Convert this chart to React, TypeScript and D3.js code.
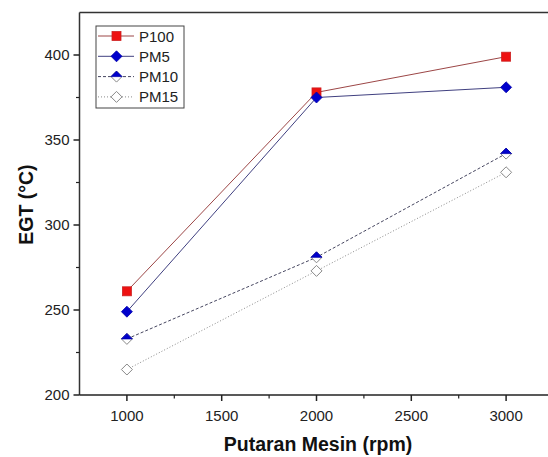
import React from 'react';
import * as d3 from 'd3';

const W = 548;
const H = 457;

const rpm = [1000, 2000, 3000];
const p100 = [261, 378, 399];
const pm5 = [249, 375, 381];
const pm10 = [233, 281, 342];
const pm15 = [215, 273, 331];

const xTicks = [1000, 1500, 2000, 2500, 3000];
const xMinor = [1250, 1750, 2250, 2750];
const yTicks = [200, 250, 300, 350, 400];
const yMinor = [225, 275, 325, 375];

const series = [
  { name: 'P100', values: p100, line: '#9c4646', dash: null, marker: 'square' },
  { name: 'PM5', values: pm5, line: '#404080', dash: null, marker: 'diamond' },
  { name: 'PM10', values: pm10, line: '#45455f', dash: '3,2', marker: 'half' },
  { name: 'PM15', values: pm15, line: '#8a8a8a', dash: '1,2', marker: 'open' },
];

const FONT = 'Arial, "Liberation Sans", sans-serif';

const Marker = ({ type, x, y }) => {
  const r = 5.5;
  const d = `M${x},${y - r}L${x + r},${y}L${x},${y + r}L${x - r},${y}Z`;
  if (type === 'square') {
    return <rect x={x - 4.5} y={y - 4.5} width={9} height={9} fill="#ee1111" stroke="#cc2222" strokeWidth={0.8} />;
  }
  if (type === 'diamond') {
    return <path d={d} fill="#0000cc" stroke="#0000aa" strokeWidth={0.8} />;
  }
  if (type === 'half') {
    return (
      <g>
        <path d={d} fill="#fff" stroke="#888" strokeWidth={1} />
        <path d={`M${x - r},${y}L${x},${y - r}L${x + r},${y}Z`} fill="#0000cc" stroke="#0000aa" strokeWidth={0.8} />
      </g>
    );
  }
  return <path d={d} fill="#fff" stroke="#888" strokeWidth={1} />;
};

const App = () => {
  const x = d3.scaleLinear().domain([750, 3250]).range([79.5, 553.5]);
  const y = d3.scaleLinear().domain([200, 425]).range([395, 12.5]);
  const line = d3
    .line<number>()
    .x((d, i) => x(rpm[i]))
    .y((d) => y(d));

  const left = x(750);
  const bottom = y(200);
  const top = y(425);

  return (
    <div style={{ position: 'absolute', left: 0, top: 0 }}>
      <svg width={W} height={H} style={{ display: 'block', background: '#fff' }} fontFamily={FONT}>
        {series.map((s) => (
          <path
            key={s.name + '-line'}
            d={line(s.values)}
            fill="none"
            stroke={s.line}
            strokeWidth={1}
            strokeDasharray={s.dash || undefined}
          />
        ))}
        {series.map((s) =>
          s.values.map((v, i) => <Marker key={s.name + i} type={s.marker} x={x(rpm[i])} y={y(v)} />)
        )}

        {/* frame */}
        <line x1={left} x2={W} y1={top} y2={top} stroke="#333" strokeWidth={1.5} />
        <line x1={left} x2={left} y1={top} y2={bottom} stroke="#333" strokeWidth={1.5} />
        <line x1={left} x2={W} y1={bottom} y2={bottom} stroke="#222" strokeWidth={1.5} />

        {/* x ticks */}
        {xTicks.map((t) => (
          <g key={'xt' + t}>
            <line x1={x(t)} x2={x(t)} y1={bottom} y2={bottom + 6} stroke="#222" strokeWidth={1.5} />
            <text x={x(t)} y={bottom + 26} textAnchor="middle" fontSize={15} fill="#222">
              {t}
            </text>
          </g>
        ))}
        {xMinor.map((t) => (
          <line key={'xm' + t} x1={x(t)} x2={x(t)} y1={bottom} y2={bottom + 3.5} stroke="#222" strokeWidth={1.2} />
        ))}

        {/* y ticks */}
        {yTicks.map((t) => (
          <g key={'yt' + t}>
            <line x1={left - 6} x2={left} y1={y(t)} y2={y(t)} stroke="#222" strokeWidth={1.5} />
            <text x={left - 10} y={y(t) + 5} textAnchor="end" fontSize={15} fill="#222">
              {t}
            </text>
          </g>
        ))}
        {yMinor.map((t) => (
          <line key={'ym' + t} x1={left - 3.5} x2={left} y1={y(t)} y2={y(t)} stroke="#222" strokeWidth={1.2} />
        ))}

        {/* axis titles */}
        <text x={318} y={451} textAnchor="middle" fontSize={19.5} fontWeight="bold" fill="#111">
          Putaran Mesin (rpm)
        </text>
        <text
          transform={`translate(33,${y(312)}) rotate(-90)`}
          textAnchor="middle"
          fontSize={19.5}
          fontWeight="bold"
          fill="#111"
        >
          EGT (°C)
        </text>

        {/* legend */}
        <rect x={96} y={26} width={88} height={82} fill="#fff" stroke="#444" strokeWidth={1} />
        {series.map((s, i) => {
          const ly = 36 + i * 20.3;
          return (
            <g key={'lg' + s.name}>
              <line
                x1={98}
                x2={134}
                y1={ly}
                y2={ly}
                stroke={s.line}
                strokeWidth={1}
                strokeDasharray={s.dash || undefined}
              />
              <Marker type={s.marker} x={116.5} y={ly} />
              <text x={139} y={ly + 5.5} fontSize={15} fill="#222">
                {s.name}
              </text>
            </g>
          );
        })}
      </svg>
    </div>
  );
};

export default App;
